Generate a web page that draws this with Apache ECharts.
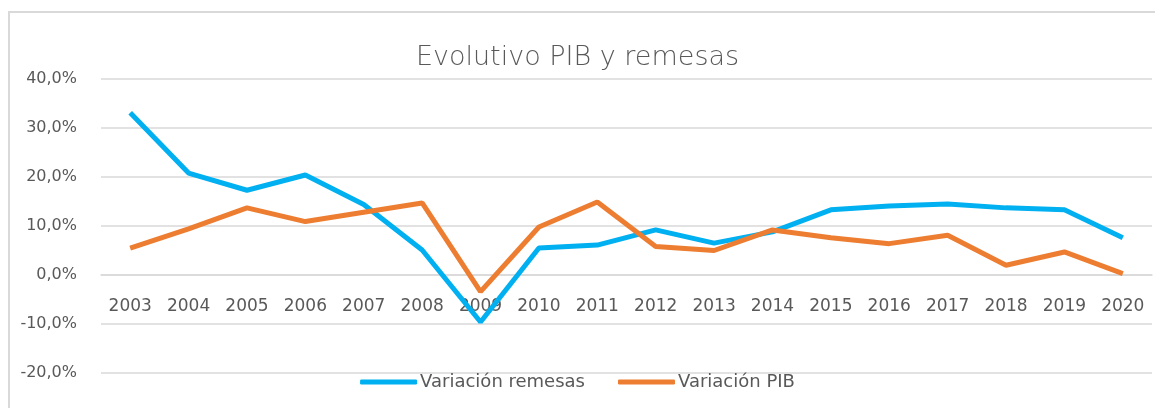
<!DOCTYPE html>
<html>
<head>
<meta charset="utf-8">
<script src="https://cdn.jsdelivr.net/npm/echarts@6/dist/echarts.min.js"></script>
<style>
  html, body { margin: 0; padding: 0; background: #fff; }
  #main { width: 1155px; height: 408px; }
</style>
</head>
<body>
<div id="main"></div>
<script>
// years on the x axis
var years = ['2003', '2004', '2005', '2006', '2007', '2008', '2009', '2010', '2011',
             '2012', '2013', '2014', '2015', '2016', '2017', '2018', '2019', '2020'];

// values in percent
var remesas = [33.1, 20.8, 17.3, 20.4, 14.4, 5.1, -9.6, 5.5, 6.1,
               9.2, 6.5, 8.8, 13.3, 14.1, 14.5, 13.7, 13.3, 7.6];
var pib = [5.5, 9.4, 13.7, 10.9, 12.8, 14.7, -3.4, 9.8, 14.9,
           5.8, 5.0, 9.2, 7.6, 6.4, 8.1, 2.0, 4.7, 0.3];

var serie_names = ['Variación remesas', 'Variación PIB'];

var gray_text = '#595959';
var gray_line = '#D9D9D9';
var font = 'DejaVu Sans';

var myChart = echarts.init(document.getElementById('main'));

var option = {
    animation: false,
    graphic: [{
        type: 'rect',
        shape: { x: 9, y: 12, width: 1200, height: 500 },
        style: { fill: 'none', stroke: gray_line, lineWidth: 2 },
        z: -1
    }],
    title: {
        text: 'Evolutivo PIB y remesas',
        left: 'center',
        top: 39,
        textStyle: {
            fontFamily: font,
            fontSize: 27,
            fontWeight: 200,
            color: gray_text
        }
    },
    legend: {
        data: serie_names,
        left: 'center',
        top: 368,
        icon: 'roundRect',
        itemWidth: 57,
        itemHeight: 5,
        itemGap: 33,
        textStyle: { fontFamily: font, fontSize: 18, color: gray_text, padding: [0, 0, 0, -2] }
    },
    grid: { left: 101, right: 3, top: 79, bottom: 35 },
    xAxis: {
        type: 'category',
        data: years,
        boundaryGap: true,
        // the axis sits on the 0,0% line (98px above the bottom of the grid)
        offset: -98,
        axisLine: { onZero: false, lineStyle: { color: gray_line, width: 1.5 } },
        axisTick: { show: false },
        axisLabel: { margin: 23, fontFamily: font, fontSize: 17, color: gray_text, interval: 0 }
    },
    yAxis: {
        type: 'value',
        min: -20,
        max: 40,
        interval: 10,
        axisLine: { show: false },
        axisTick: { show: false },
        splitLine: { lineStyle: { color: gray_line, width: 1.5 } },
        axisLabel: {
            margin: 24,
            fontFamily: font,
            fontSize: 16,
            color: gray_text,
            formatter: function (v) { return v.toFixed(1).replace('.', ',') + '%'; }
        }
    },
    series: [
        {
            name: serie_names[0],
            type: 'line',
            data: remesas,
            symbol: 'none',
            lineStyle: { color: '#00B0F0', width: 5 },
            itemStyle: { color: '#00B0F0' }
        },
        {
            name: serie_names[1],
            type: 'line',
            data: pib,
            symbol: 'none',
            lineStyle: { color: '#ED7D31', width: 5 },
            itemStyle: { color: '#ED7D31' }
        }
    ]
};

myChart.setOption(option);
</script>
</body>
</html>
